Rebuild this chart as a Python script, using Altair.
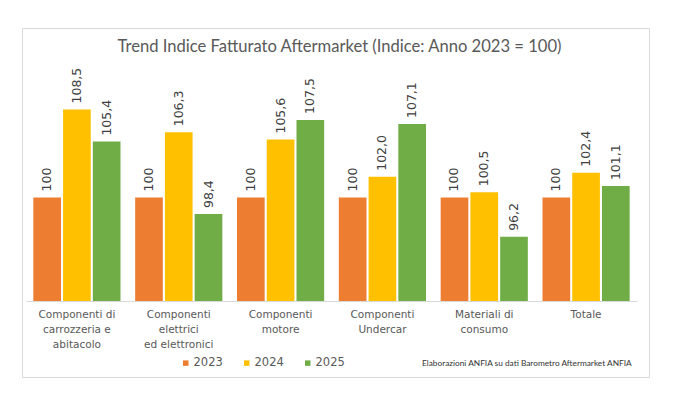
import altair as alt
import pandas as pd

categories = ["Componenti di|carrozzeria e|abitacolo",
              "Componenti|elettrici|ed elettronici",
              "Componenti|motore",
              "Componenti|Undercar",
              "Materiali di|consumo",
              "Totale"]
years = ["2023", "2024", "2025"]
v2023 = [100, 100, 100, 100, 100, 100]
v2024 = [108.5, 106.3, 105.6, 102.0, 100.5, 102.4]
v2025 = [105.4, 98.4, 107.5, 107.1, 96.2, 101.1]
colors = ["#ED7D31", "#FFC000", "#70AD47"]
title_text = "Trend Indice Fatturato Aftermarket (Indice: Anno 2023 = 100)"
source_text = "Elaborazioni ANFIA su dati Barometro Aftermarket ANFIA"

rows = []
for series, yr in zip([v2023, v2024, v2025], years):
    for c, v in zip(categories, series):
        lab = "100" if yr == "2023" else f"{v:.1f}".replace(".", ",")
        rows.append({"cat": c, "year": yr, "value": v, "label": lab})
df = pd.DataFrame(rows)

W, H = 627, 349

x = alt.X("cat:N", sort=categories, title=None,
          scale=alt.Scale(range=[4, 615], paddingInner=0.144, paddingOuter=0.072),
          axis=alt.Axis(orient="bottom", offset=-76, ticks=False, domainColor="#D9D9D9",
                        labelExpr="split(datum.label, '|')", labelAngle=0,
                        labelFont="DejaVu Sans", labelFontSize=10.5, labelColor="#595959",
                        labelPadding=8, labelLineHeight=15, labelBaseline="top",
                        labelLimit=300))
xo = alt.XOffset("year:N", sort=years, scale=alt.Scale(paddingInner=0.07))
yscale = alt.Scale(domain=[90, 110], range=[273, 66], zero=False, nice=False)

base = alt.Chart(df)
bars = base.mark_bar().encode(
    x=x, xOffset=xo,
    y=alt.Y("value:Q", scale=yscale, axis=None),
    y2=alt.datum(90),
    color=alt.Color("year:N", sort=years,
                    scale=alt.Scale(domain=years, range=colors),
                    legend=alt.Legend(title=None, orient="none", legendX=158, legendY=329,
                                      direction="horizontal", symbolType="square",
                                      symbolSize=30, symbolStrokeWidth=0,
                                      labelFont="DejaVu Sans", labelFontSize=11.5,
                                      labelColor="#595959", labelOffset=2,
                                      columnPadding=18, padding=0)),
)
texts = base.mark_text(angle=270, align="left", baseline="middle", dx=6,
                       font="DejaVu Sans", fontSize=12.5, color="#404040").encode(
    x=x, xOffset=xo,
    y=alt.Y("value:Q", scale=yscale, axis=None),
    text="label:N",
)
note = alt.Chart(pd.DataFrame({"t": [source_text]})).mark_text(
    align="left", baseline="middle", font="Lato", fontSize=8.3, color="#333333"
).encode(x=alt.value(400), y=alt.value(336), text="t:N")

chart = alt.layer(bars, texts, note).properties(
    width=W, height=H,
    title=alt.TitleParams(text=title_text, font="Lato", fontSize=16.6, fontWeight="normal",
                          color="#595959", offset=-36, baseline="middle", anchor="middle",
                          dx=4),
    autosize=alt.AutoSizeParams(type="none"),
    padding={"left": 14, "top": 20, "right": 10, "bottom": 10},
).configure_view(stroke="#D9D9D9", strokeWidth=1)

chart.save("out.html", embed_options={"renderer": "svg", "actions": False})
